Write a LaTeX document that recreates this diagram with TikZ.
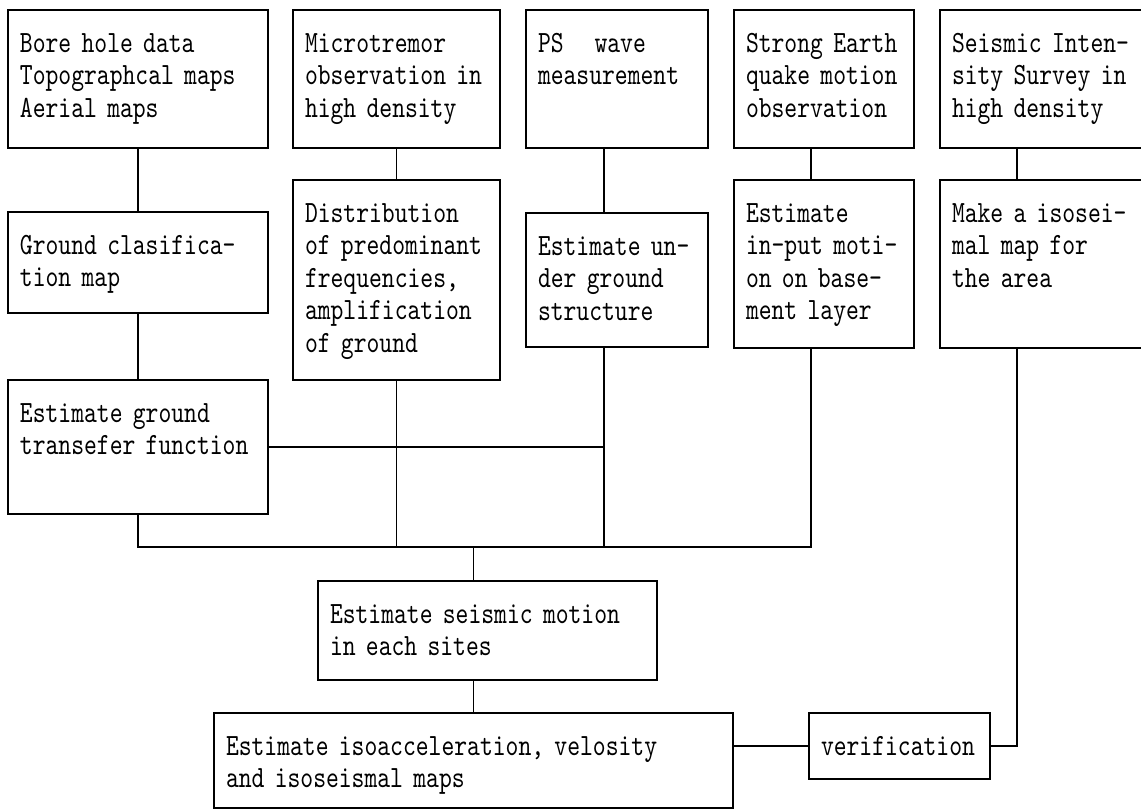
\documentclass[tikz,border=0pt]{standalone}
\usepackage{fontspec}
\newfontfamily\boxfont{lmmono10-regular.otf}[FakeStretch=0.79]
\usetikzlibrary{positioning}

\begin{document}
\begin{tikzpicture}[
  node distance=0.65cm and 0.65cm,
  box/.style={draw, line width=1.3pt, anchor=north west, outer sep=0pt, align=left, inner xsep=0.3cm, inner ysep=0pt, text height=1.06cm, font=\boxfont\fontsize{22pt}{23.1pt}\selectfont},
  link/.style={line width=1.3pt}
]
\useasboundingbox (0,0) rectangle (28.525,-20.3);
\clip (0,0) rectangle (28.525,-20.3);

% top row: surveys and observations
\node[box, text width=5.9cm, text depth=2.39cm] (bore) at (0.2,-0.25) {Bore hole data\\Topographcal maps\\Aerial maps};
\node[right=0.625cm of bore.north east, box, text width=4.575cm, text depth=2.39cm] (micro) {Microtremor\\observation in\\high density};
\node[right=of micro.north east, box, text width=3.95cm, text depth=2.39cm] (ps) {PS\ \ \ wave\\measurement};
\node[right=of ps.north east, box, text width=3.9cm, text depth=2.39cm] (strong) {Strong Earth\\quake motion\\observation};
\node[right=of strong.north east, box, text width=4.9cm, text depth=2.39cm] (survey) {Seismic Inten-\\sity Survey in\\high density};

% second row
\node[below=1.6cm of bore.south west, box, text width=5.9cm, text depth=1.465cm] (ground) {Ground clasifica-\\tion map};
\node[below=0.8cm of micro.south west, box, text width=4.575cm, text depth=3.94cm] (distrib) {Distribution\\of predominant\\frequencies,\\amplification\\of ground};
\node[below=1.625cm of ps.south west, box, text width=3.95cm, text depth=2.29cm] (under) {Estimate un-\\der ground\\structure};
\node[below=0.8cm of strong.south west, box, text width=3.9cm, text depth=3.14cm] (input) {Estimate\\in-put moti-\\on on base-\\ment layer};
\node[below=0.8cm of survey.south west, box, text width=4.9cm, text depth=3.14cm] (isomap) {Make a isosei-\\mal map for\\the area};

\node[below=1.675cm of ground.south west, box, text width=5.9cm, text depth=2.29cm] (transfer) {Estimate ground\\transefer function};

% estimates
\node[box, text width=7.875cm, text depth=1.415cm] (seismic) at (7.95,-14.525) {Estimate seismic motion\\in each sites};
\node[box, text width=12.375cm, text depth=1.315cm] (result) at (5.35,-17.825) {Estimate isoacceleration, velosity\\and isoseismal maps};
\node[right=1.9cm of result.north east, box, text width=3.925cm, text depth=0.59cm] (verify) {verification};

\coordinate (bus) at (0,-13.675);
\coordinate (psdrop) at ([xshift=-0.325cm]under.south);
\coordinate (isodrop) at ([xshift=1.925cm]isomap.south west);

\draw[link] (bore) -- (ground);
\draw[link] (ground) -- (transfer);
\draw[link] (micro) -- (distrib);
\draw[link] ([xshift=-0.325cm]ps.south) -- ([xshift=-0.325cm]under.north);
\draw[link] ([xshift=-0.325cm]strong.south) -- ([xshift=-0.325cm]input.north);
\draw[link] ([xshift=1.925cm]survey.south west) -- ([xshift=1.925cm]isomap.north west);
\draw[link] (transfer) -- (transfer -| psdrop);
\draw[link] (transfer) -- (transfer |- bus) -| ([xshift=-0.325cm]input.south);
\draw[link] (distrib) -- (distrib |- bus);
\draw[link] (psdrop) -- (psdrop |- bus);
\draw[link] (result |- bus) -- (result |- seismic.north);
\draw[link] (result |- seismic.south) -- (result);
\draw[link] (verify -| result.east) -- (verify);
\draw[link] (isodrop) |- (verify);
\end{tikzpicture}
\end{document}
